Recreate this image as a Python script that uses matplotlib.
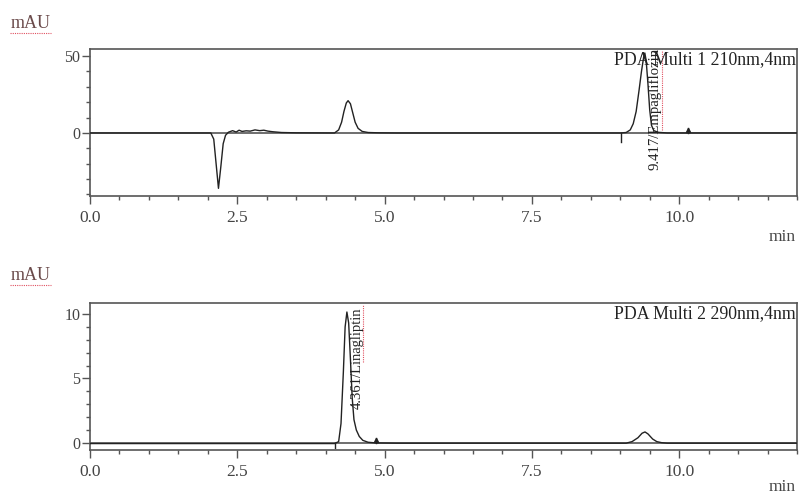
import numpy as np
import matplotlib.pyplot as plt
from matplotlib.lines import Line2D
from matplotlib.ticker import MultipleLocator

plt.rcParams['font.family'] = ['Liberation Serif', 'DejaVu Serif']

# Channel 1 (210 nm) trace: retention time (min) vs signal (mAU)
t1 = [0.0, 2.05, 2.10, 2.14, 2.18, 2.22, 2.26, 2.30, 2.35, 2.42, 2.48, 2.53, 2.58,
      2.65, 2.72, 2.80, 2.88, 2.95, 3.02, 3.10, 3.25, 3.5, 4.15, 4.22, 4.27, 4.31,
      4.35, 4.38, 4.42, 4.46, 4.50, 4.55, 4.62, 4.72, 4.90, 5.2, 9.0, 9.10, 9.17,
      9.22, 9.27, 9.32, 9.36, 9.40, 9.417, 9.44, 9.47, 9.50, 9.53, 9.57, 9.65, 9.8,
      10.2, 12.0]
y1 = [0.0, 0.0, -4.0, -20.0, -36.0, -22.0, -7.0, -1.5, 0.5, 1.5, 0.6, 1.8, 1.0,
      1.4, 1.2, 2.0, 1.5, 1.8, 1.2, 0.8, 0.3, 0.1, 0.0, 2.0, 7.0, 14.0,
      19.5, 21.0, 19.0, 13.0, 7.0, 3.0, 1.0, 0.3, 0.1, 0.0, 0.0, 0.3, 2.0,
      6.0, 14.0, 28.0, 40.0, 50.0, 52.0, 47.0, 32.0, 15.0, 5.0, 1.5, 0.4, 0.0,
      0.0, 0.0]

# Channel 2 (290 nm) trace
t2 = [0.0, 4.15, 4.22, 4.26, 4.30, 4.33, 4.36, 4.39, 4.42, 4.45, 4.48, 4.52,
      4.57, 4.63, 4.72, 4.85, 5.2, 9.1, 9.2, 9.3, 9.37, 9.42, 9.47, 9.55, 9.62,
      9.7, 9.8, 12.0]
y2 = [-0.05, -0.05, 0.1, 1.5, 5.5, 9.0, 10.15, 9.3, 6.5, 3.5, 1.8, 1.0,
      0.5, 0.2, 0.05, 0.0, -0.02, -0.02, 0.1, 0.4, 0.75, 0.85, 0.7, 0.3, 0.1,
      0.02, -0.02, -0.02]

# Integration start/end marks and peak labels
marks1 = [9.02, 10.15]
marks2 = [4.15, 4.85]
peak1 = (9.417, 'Empagliflozin')
peak2 = (4.361, 'Linagliptin')

fig = plt.figure(figsize=(8.01, 4.95), dpi=100)
ax1 = fig.add_axes([0.1124, 0.604, 0.8826, 0.297])
ax2 = fig.add_axes([0.1124, 0.0909, 0.8826, 0.297])

ink = '#222222'
grey = '#555555'


def style_axis(ax, ylim, ymajor, yminor, title):
    ax.set_xlim(0, 12)
    ax.set_ylim(*ylim)
    ax.xaxis.set_major_locator(MultipleLocator(2.5))
    ax.xaxis.set_minor_locator(MultipleLocator(0.5))
    ax.yaxis.set_major_locator(MultipleLocator(ymajor))
    ax.yaxis.set_minor_locator(MultipleLocator(yminor))
    ax.xaxis.set_major_formatter(lambda v, p: f'{v:.1f}')
    ax.tick_params(which='major', length=6, width=1, color=grey,
                   labelcolor='#444444')
    ax.tick_params(which='minor', length=3, width=1, color=grey)
    ax.tick_params(axis='x', pad=4, labelsize=12.5)
    ax.tick_params(axis='y', pad=1, labelsize=11.5)
    for s in ax.spines.values():
        s.set_color(grey)
        s.set_linewidth(1.2)
    ax.text(0.998, 0.985, title, transform=ax.transAxes, ha='right', va='top',
            fontsize=12.8, color=ink)


style_axis(ax1, (-41, 54.6), 50, 10, 'PDA Multi 1 210nm,4nm')
style_axis(ax2, (-0.55, 10.85), 5, 1, 'PDA Multi 2 290nm,4nm')

# Traces and baselines
ax1.axhline(0, color=grey, lw=1.2, zorder=1)
ax2.axhline(0, color=grey, lw=1.2, zorder=1)
ax1.plot(t1, y1, color=ink, lw=1.0, zorder=3)
ax2.plot(t2, y2, color=ink, lw=1.0, zorder=3)

# Integration marks
ax1.plot([marks1[0], marks1[0]], [0, -6], color=ink, lw=1)
ax1.plot([marks1[1], marks1[1]], [0, 3], color=ink, lw=1)
ax1.plot(marks1[1], 2.2, marker='^', ms=3, color=ink)
ax2.plot([marks2[0], marks2[0]], [0, -0.4], color=ink, lw=1)
ax2.plot([marks2[1], marks2[1]], [0, 0.35], color=ink, lw=1)
ax2.plot(marks2[1], 0.25, marker='^', ms=3, color=ink)

# Peak labels, written vertically next to each apex
ax1.text(peak1[0] + 0.16, -24, f'{peak1[0]:.3f}/{peak1[1]}', rotation=90,
         ha='center', va='bottom', fontsize=10.6, color=ink)
ax1.plot([peak1[0] + 0.29, peak1[0] + 0.29], [2, 54], color='#e05060', lw=0.8,
         ls=(0, (1, 1)))
ax2.text(peak2[0] + 0.17, 2.6, f'{peak2[0]:.3f}/{peak2[1]}', rotation=90,
         ha='center', va='bottom', fontsize=10.5, color=ink)
ax2.plot([peak2[0] + 0.28, peak2[0] + 0.28], [6.3, 10.7], color='#e05060', lw=0.8,
         ls=(0, (1, 1)))

# Axis unit labels
for y in (0.953, 0.444):
    fig.text(0.013, y, 'mAU', fontsize=13, color='#6a4a4a', va='center')
    fig.add_artist(Line2D([0.013, 0.064], [y - 0.02, y - 0.02],
                          color='#e05060', lw=0.8, ls=(0, (1, 1))))
for y in (0.521, 0.016):
    fig.text(0.993, y, 'min', fontsize=12.5, color='#444444', ha='right', va='center')

plt.savefig('out.png', dpi=100)
